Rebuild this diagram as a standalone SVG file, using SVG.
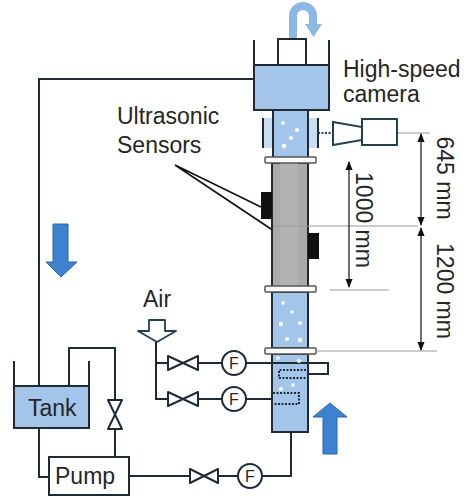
<svg xmlns="http://www.w3.org/2000/svg" width="471" height="497" viewBox="0 0 471 497">
  <defs>
    <style>
      .pipe { fill: none; stroke: #1e2a36; stroke-width: 2; }
      .wall { fill: none; stroke: #1e2a36; stroke-width: 2; }
      .water { fill: #a3c5ea; stroke: #1e2a36; stroke-width: 2; }
      .valve { fill: #fff; stroke: #1e2a36; stroke-width: 2; stroke-linejoin: round; }
      .meter { fill: #fff; stroke: #1e2a36; stroke-width: 2; }
      .label { font-family: "Liberation Sans", Arial, sans-serif; font-size: 23px; fill: #262626; }
      .mlabel { font-family: "Liberation Sans", Arial, sans-serif; font-size: 16px; fill: #262626; }
      .flange { fill: #fbfbfb; stroke: #555; stroke-width: 1.5; }
      .bubble { fill: #fff; }
      .dim { fill: none; stroke: #222; stroke-width: 1.3; }
      .ext { fill: none; stroke: #9a9a9a; stroke-width: 1.2; }
      .flow { fill: #3d82d0; stroke: #2a66ad; stroke-width: 1; }
      .spar { fill: none; stroke: #1e2a36; stroke-width: 2; stroke-dasharray: 2 1.5; }
      .cam { fill: #fff; stroke: #22404f; stroke-width: 2; }
    </style>
    <marker id="ah" viewBox="0 0 10 10" refX="9" refY="5" markerWidth="7" markerHeight="7" orient="auto-start-reverse">
      <path d="M0 1 L10 5 L0 9 z" fill="#111"/>
    </marker>
  </defs>

  <rect width="471" height="497" fill="#fff"/>

  <g id="connectors">
    <!-- return line from overflow reservoir to tank -->
    <path class="pipe" d="M254 79 H39 V386"/>
    <!-- tank outlet to pump -->
    <path class="pipe" d="M39 428 V477 H49"/>
    <!-- bypass line -->
    <path class="pipe" d="M69 386 V348 H115 V457"/>
    <!-- pump to column bottom -->
    <path class="pipe" d="M129 476 H190 M218 476 H238 M262 476 H291 V432"/>
    <!-- air supply lines -->
    <path class="pipe" d="M156 342 V399 H168 M156 363 H168 M198 363 H222 M198 399 H222"/>
    <path class="pipe" d="M246 363 H328 V374 H308"/>
    <path class="pipe" d="M246 399 H272"/>
    <!-- sensor leaders -->
    <path fill="none" stroke="#111" stroke-width="1.6" d="M175 165 L261 207 M175 165 L310 255"/>
  </g>

  <g id="flow-arrows">
    <path d="M293 38 V16 A10 10 0 0 1 313 16 V25" fill="none" stroke="#8cb8e4" stroke-width="8"/>
    <polygon points="305,24 322,24 313.5,37" fill="#8cb8e4"/>
    <polygon class="flow" points="53,224 68,224 68,262 77,262 61,277 46,262 53,262"/>
    <polygon class="flow" points="323,454 337,454 337,417 347,417 330,403 313,417 323,417"/>
  </g>

  <g id="reservoir">
    <rect class="water" x="254" y="65" width="75" height="45"/>
    <path class="wall" d="M254 40 V110 M329 40 V110"/>
    <rect x="278" y="39" width="28" height="26" fill="#fff" stroke="#1e2a36" stroke-width="2"/>
  </g>

  <g id="column">
    <!-- viewing section with jacket -->
    <rect x="263" y="118" width="55" height="30" fill="#c9dcf0"/>
    <path class="wall" d="M263 118 V148 M318 118 V148" stroke-width="1.6"/>
    <rect class="water" x="273" y="110" width="35" height="48"/>
    <!-- test section -->
    <rect x="272" y="163" width="36" height="124" fill="#aaaaaa" stroke="#1e2a36" stroke-width="2"/>
    <rect x="280" y="163" width="18" height="124" fill="#b2b2b2"/>
    <!-- lower sections -->
    <rect class="water" x="272" y="292" width="36" height="56"/>
    <rect class="water" x="272" y="354" width="36" height="78"/>
    <!-- flanges -->
    <rect class="flange" x="265" y="157" width="51" height="6" rx="1"/>
    <rect class="flange" x="265" y="286" width="51" height="6" rx="1"/>
    <rect class="flange" x="265" y="348" width="51" height="6" rx="1"/>
    <!-- spargers -->
    <path class="pipe" d="M272 363 H308"/>
    <path class="spar" d="M306 370 H279 V378 H306"/>
    <path class="spar" d="M273 393 H299 V404 H273"/>
    <!-- bubbles -->
    <g class="bubble">
      <circle cx="283" cy="123" r="2"/>
      <circle cx="297" cy="130" r="2"/>
      <circle cx="291" cy="138" r="2"/>
      <circle cx="284" cy="146" r="2.2"/>
      <circle cx="283" cy="303" r="1.8"/>
      <circle cx="292" cy="312" r="1.8"/>
      <circle cx="281" cy="324" r="2.2"/>
      <circle cx="300" cy="323" r="2"/>
      <circle cx="287" cy="339" r="2"/>
      <circle cx="300" cy="340" r="2.2"/>
      <circle cx="278" cy="358" r="1.8"/>
      <circle cx="299" cy="361" r="2"/>
      <circle cx="293" cy="385" r="1.8"/>
      <circle cx="281" cy="389" r="2"/>
    </g>
  </g>

  <g id="sensors">
    <rect x="261" y="192" width="11" height="27" fill="#111"/>
    <rect x="308" y="233" width="11" height="26" fill="#111"/>
  </g>

  <g id="camera">
    <path d="M318 133 H333" fill="none" stroke="#22404f" stroke-width="2" stroke-dasharray="2 1.5"/>
    <polygon class="cam" points="333,122 362,127 362,140 333,145"/>
    <rect class="cam" x="362" y="119" width="35" height="26"/>
  </g>

  <g id="dimensions">
    <path class="ext" d="M398 133 H430 M273 226 H418 M330 290 H389 M316 351 H437"/>
    <path class="dim" d="M421 134 V225" marker-start="url(#ah)" marker-end="url(#ah)"/>
    <path class="dim" d="M421 228 V350" marker-start="url(#ah)" marker-end="url(#ah)"/>
    <path class="dim" d="M349 162 V287" marker-start="url(#ah)" marker-end="url(#ah)"/>
    <text class="label" transform="translate(437 178) rotate(90)" text-anchor="middle">645 mm</text>
    <text class="label" transform="translate(437 291) rotate(90)" text-anchor="middle">1200 mm</text>
    <text class="label" transform="translate(356 220) rotate(90)" text-anchor="middle">1000 mm</text>
  </g>

  <g id="tank">
    <rect class="water" x="14" y="386" width="75" height="42"/>
    <path class="wall" d="M14 361 V428 M89 361 V428"/>
    <text class="label" x="28" y="416">Tank</text>
  </g>

  <g id="pump">
    <rect x="49" y="457" width="80" height="38" fill="#fff" stroke="#1e2a36" stroke-width="2"/>
    <text class="label" x="55" y="484">Pump</text>
  </g>

  <g id="valves">
    <path class="valve" d="M168 356 L198 370 V356 L168 370 Z"/>
    <path class="valve" d="M168 392 L198 406 V392 L168 406 Z"/>
    <path class="valve" d="M190 469 L218 483 V469 L190 483 Z"/>
    <path class="valve" d="M108 400 L122 429 H108 L122 400 Z"/>
  </g>

  <g id="flowmeters">
    <circle class="meter" cx="234" cy="363" r="12"/>
    <circle class="meter" cx="234" cy="399" r="12"/>
    <circle class="meter" cx="250" cy="476" r="12"/>
    <text class="mlabel" x="234" y="369" text-anchor="middle">F</text>
    <text class="mlabel" x="234" y="405" text-anchor="middle">F</text>
    <text class="mlabel" x="250" y="482" text-anchor="middle">F</text>
  </g>

  <g id="air-inlet">
    <polygon points="149,320 165,320 165,331 176,331 157,342 138,331 149,331" fill="#fff" stroke="#22404f" stroke-width="1.8" stroke-linejoin="round"/>
    <text class="label" x="143" y="307">Air</text>
  </g>

  <g id="labels">
    <text class="label" x="343" y="77">High-speed</text>
    <text class="label" x="343" y="102">camera</text>
    <text class="label" x="117" y="124">Ultrasonic</text>
    <text class="label" x="117" y="153">Sensors</text>
  </g>
</svg>
